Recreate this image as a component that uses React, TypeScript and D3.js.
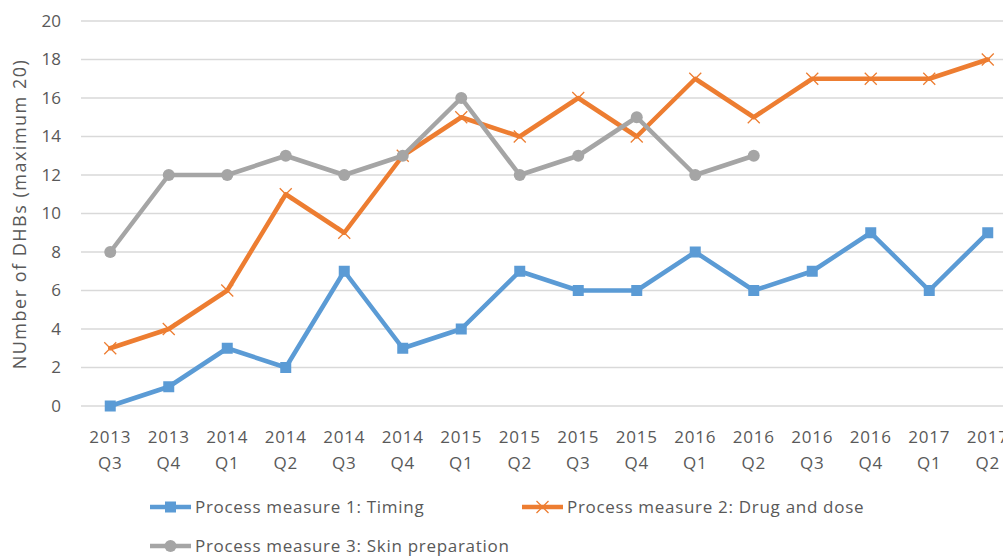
import { useEffect, useRef } from "react";
import * as d3 from "d3";

const width = 1003;
const height = 556;

const years = ["2013", "2013", "2014", "2014", "2014", "2014", "2015", "2015", "2015", "2015", "2016", "2016", "2016", "2016", "2017", "2017"];
const quarters = ["Q3", "Q4", "Q1", "Q2", "Q3", "Q4", "Q1", "Q2", "Q3", "Q4", "Q1", "Q2", "Q3", "Q4", "Q1", "Q2"];
const categories = years.map((y, i) => `${y} ${quarters[i]}`);

const timing = [0, 1, 3, 2, 7, 3, 4, 7, 6, 6, 8, 6, 7, 9, 6, 9];
const drugDose = [3, 4, 6, 11, 9, 13, 15, 14, 16, 14, 17, 15, 17, 17, 17, 18];
const skinPrep = [8, 12, 12, 13, 12, 13, 16, 12, 13, 15, 12, 13];

const yTicks = [0, 2, 4, 6, 8, 10, 12, 14, 16, 18, 20];

const seriesNames = [
  "Process measure 1: Timing",
  "Process measure 2: Drug and dose",
  "Process measure 3: Skin preparation",
];
const colors = ["#5B9BD5", "#ED7D31", "#A5A5A5"];

const marginLeft = 81;
const plotRight = 1017; // plot runs past the window edge, as in the reference
const yTop = 21;
const yBottom = 406;

const font = "'Open Sans', 'Noto Sans', sans-serif";
const textColor = "#595959";

const App = () => {
  const ref = useRef<SVGSVGElement>(null);

  useEffect(() => {
    const svg = d3.select(ref.current);
    svg.selectAll("*").remove();

    const x = d3.scaleBand().domain(categories).range([marginLeft, plotRight]);
    const y = d3.scaleLinear().domain([0, 20]).range([yBottom, yTop]);
    const cx = (i: number) => (x(categories[i]) as number) + x.bandwidth() / 2;

    // gridlines
    svg
      .append("g")
      .selectAll("line")
      .data(yTicks)
      .join("line")
      .attr("x1", marginLeft)
      .attr("x2", plotRight)
      .attr("y1", (d) => y(d))
      .attr("y2", (d) => y(d))
      .attr("stroke", "#D9D9D9")
      .attr("stroke-width", 1.3);

    // y tick labels
    svg
      .append("g")
      .selectAll("text")
      .data(yTicks)
      .join("text")
      .attr("x", 61)
      .attr("y", (d) => y(d))
      .attr("dy", "0.35em")
      .attr("text-anchor", "end")
      .attr("font-family", font)
      .attr("font-size", 17)
      .attr("fill", textColor)
      .text((d) => d);

    // x tick labels
    const xl = svg.append("g");
    categories.forEach((c, i) => {
      xl.append("text")
        .attr("x", cx(i))
        .attr("y", 443)
        .attr("text-anchor", "middle")
        .attr("font-family", font)
        .attr("font-size", 17)
        .attr("letter-spacing", 0.8)
        .attr("fill", textColor)
        .text(years[i]);
      xl.append("text")
        .attr("x", cx(i))
        .attr("y", 469)
        .attr("text-anchor", "middle")
        .attr("font-family", font)
        .attr("font-size", 17)
        .attr("letter-spacing", 0.8)
        .attr("fill", textColor)
        .text(quarters[i]);
    });

    // y axis title
    svg
      .append("text")
      .attr("transform", `translate(26,214) rotate(-90)`)
      .attr("text-anchor", "middle")
      .attr("font-family", font)
      .attr("font-size", 18)
      .attr("letter-spacing", 1.5)
      .attr("fill", textColor)
      .text("NUmber of DHBs (maximum 20)");

    const line = d3
      .line<number>()
      .x((_, i) => cx(i))
      .y((d) => y(d));

    const drawMarker = (g: any, kind: number, px: number, py: number, color: string) => {
      if (kind === 0) {
        g.append("rect")
          .attr("x", px - 5.5)
          .attr("y", py - 5.5)
          .attr("width", 11)
          .attr("height", 11)
          .attr("fill", color);
      } else if (kind === 1) {
        g.append("path")
          .attr("d", `M${px - 6},${py - 6}L${px + 6},${py + 6}M${px - 6},${py + 6}L${px + 6},${py - 6}`)
          .attr("stroke", color)
          .attr("stroke-width", 1.3)
          .attr("fill", "none");
      } else {
        g.append("circle").attr("cx", px).attr("cy", py).attr("r", 6).attr("fill", color);
      }
    };

    // series, drawn timing first, then drug, then skin on top
    const allSeries = [timing, drugDose, skinPrep];
    [0, 1, 2].forEach((k) => {
      const g = svg.append("g");
      g.append("path")
        .datum(allSeries[k])
        .attr("d", line)
        .attr("fill", "none")
        .attr("stroke", colors[k])
        .attr("stroke-width", 4.5)
        .attr("stroke-linejoin", "round")
        .attr("stroke-linecap", "round");
      allSeries[k].forEach((v, i) => drawMarker(g, k, cx(i), y(v), colors[k]));
    });

    // legend
    const legendItems = [
      { x: 150, y: 507 },
      { x: 522, y: 507 },
      { x: 150, y: 546 },
    ];
    legendItems.forEach((p, k) => {
      const g = svg.append("g");
      g.append("line")
        .attr("x1", p.x)
        .attr("x2", p.x + 41)
        .attr("y1", p.y)
        .attr("y2", p.y)
        .attr("stroke", colors[k])
        .attr("stroke-width", 4.5);
      drawMarker(g, k, p.x + 20.5, p.y, colors[k]);
      g.append("text")
        .attr("x", p.x + 45)
        .attr("y", p.y)
        .attr("dy", "0.35em")
        .attr("font-family", font)
        .attr("font-size", 17)
        .attr("letter-spacing", 0.7)
        .attr("fill", textColor)
        .text(seriesNames[k]);
    });
  }, []);

  return (
    <svg
      ref={ref}
      width={width}
      height={height}
      viewBox={`0 0 ${width} ${height}`}
      style={{ position: "absolute", left: 0, top: 0, background: "#fff" }}
    />
  );
};

export default App;
